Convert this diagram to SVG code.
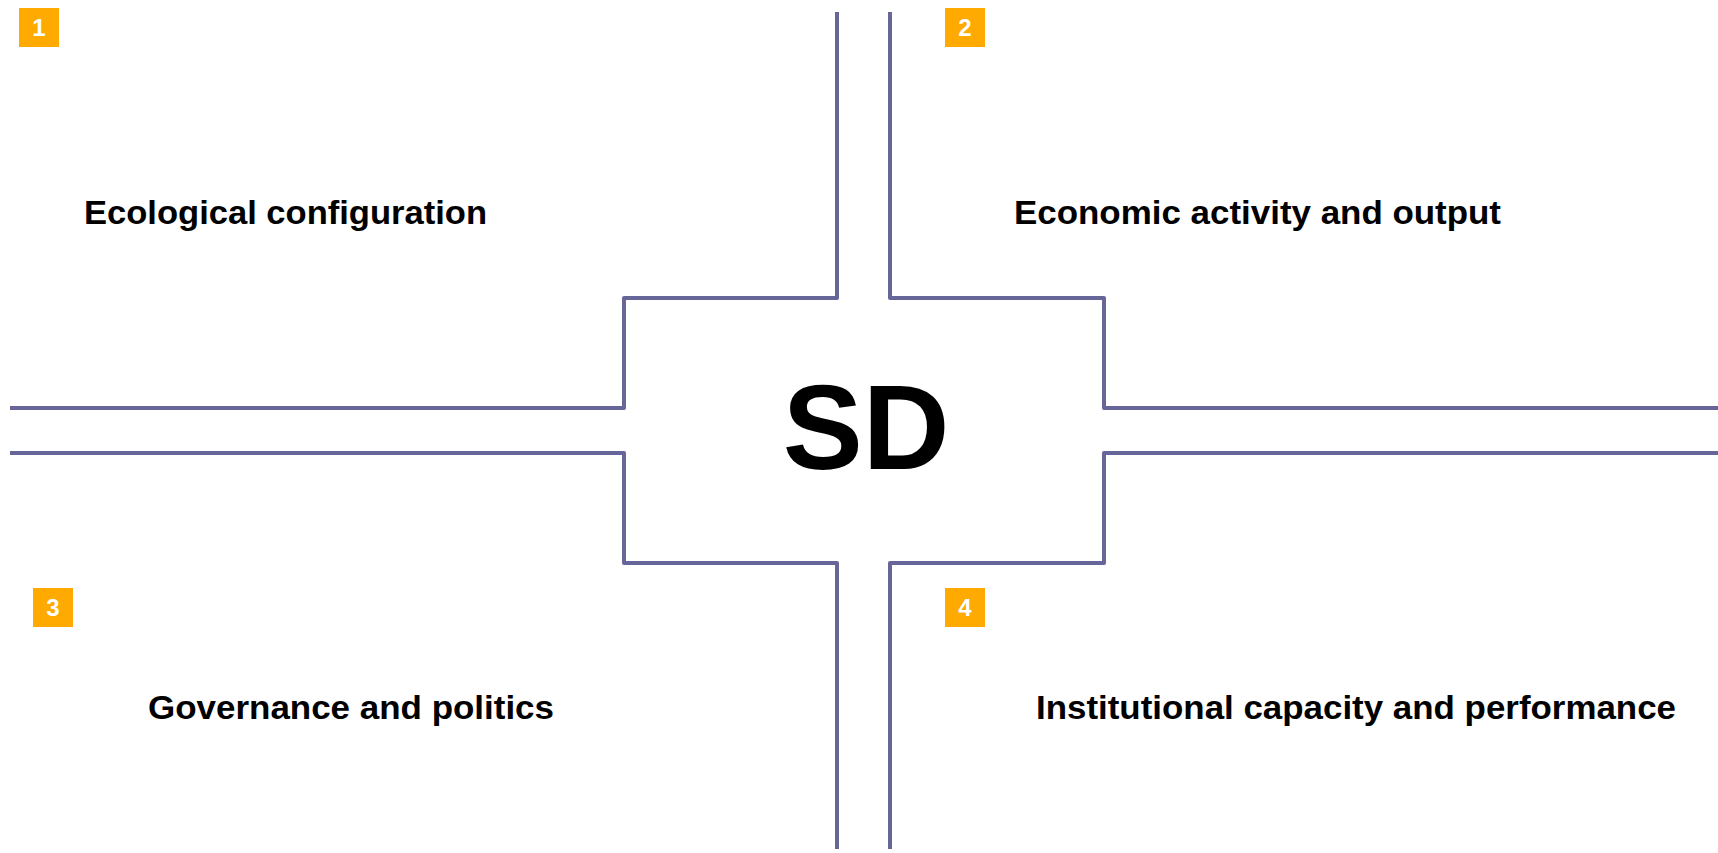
<svg xmlns="http://www.w3.org/2000/svg" width="1718" height="853" viewBox="0 0 1718 853">
<style>
.conn{fill:none;stroke:#666699;stroke-width:4;stroke-linejoin:round;stroke-linecap:butt}
.badge{fill:#FFAA00}
.num{fill:#FFFFFF;font-family:"Liberation Sans",Arial,sans-serif;font-weight:bold;font-size:24px;text-anchor:middle}
.lbl{fill:#000000;font-family:"Liberation Sans",Arial,sans-serif;font-weight:bold;font-size:33px}
.core{fill:#000000;font-family:"Liberation Sans",Arial,sans-serif;font-weight:bold;font-size:120px;text-anchor:middle}
</style>
<rect width="1718" height="853" fill="#FFFFFF"/>
<g id="connectors">
<path class="conn" d="M837,12 V298 H624 V408 H10"/>
<path class="conn" d="M890,12 V298 H1104 V408 H1718"/>
<path class="conn" d="M10,453 H624 V563 H837 V849"/>
<path class="conn" d="M1718,453 H1104 V563 H890 V849"/>
</g>
<g id="node-sd">
<text class="core" x="866" y="469">SD</text>
</g>
<g id="node-1">
<rect class="badge" x="19" y="8" width="40" height="39"/>
<text class="num" x="39" y="36">1</text>
<text class="lbl" x="84" y="224" textLength="403" lengthAdjust="spacingAndGlyphs">Ecological configuration</text>
</g>
<g id="node-2">
<rect class="badge" x="945" y="8" width="40" height="39"/>
<text class="num" x="965" y="36">2</text>
<text class="lbl" x="1014" y="224" textLength="487" lengthAdjust="spacingAndGlyphs">Economic activity and output</text>
</g>
<g id="node-3">
<rect class="badge" x="33" y="588" width="40" height="39"/>
<text class="num" x="53" y="616">3</text>
<text class="lbl" x="148" y="719" textLength="406" lengthAdjust="spacingAndGlyphs">Governance and politics</text>
</g>
<g id="node-4">
<rect class="badge" x="945" y="588" width="40" height="39"/>
<text class="num" x="965" y="616">4</text>
<text class="lbl" x="1036" y="719" textLength="640" lengthAdjust="spacingAndGlyphs">Institutional capacity and performance</text>
</g>
</svg>
